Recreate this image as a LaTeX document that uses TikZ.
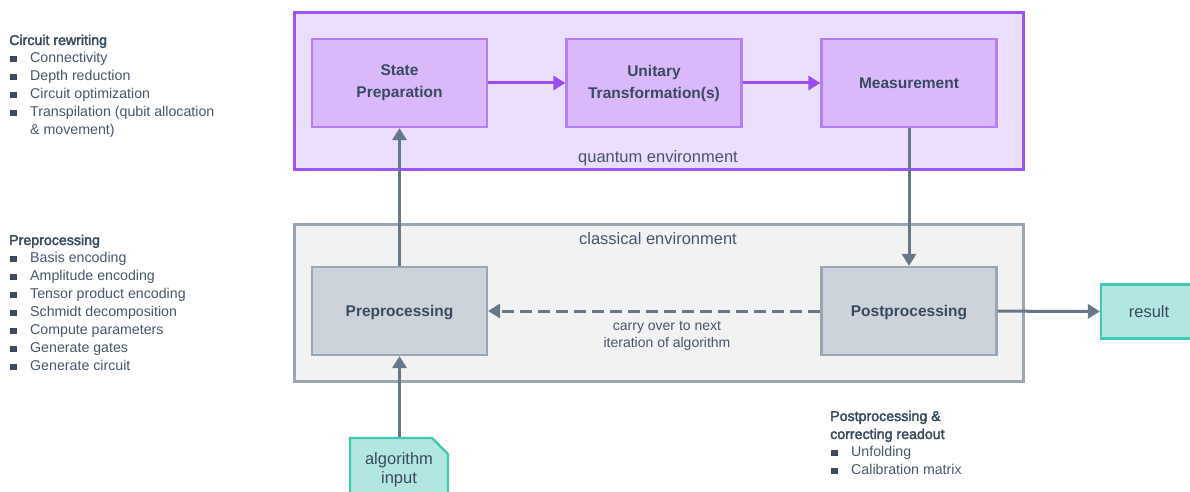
\documentclass[tikz,border=0pt]{standalone}
\usepackage{fontspec}
\setmainfont{Liberation Sans}
\newfontface\medfont{Liberation Sans}[FakeBold=2.5]
\usetikzlibrary{arrows.meta,shapes.misc}
\definecolor{qborder}{HTML}{9D55F2}
\definecolor{qfill}{HTML}{EBDDFC}
\definecolor{qbox}{HTML}{D9B9FA}
\definecolor{qboxb}{HTML}{B47EF6}
\definecolor{qarrow}{HTML}{9B4DF0}
\definecolor{cborder}{HTML}{9AA6B2}
\definecolor{cfill}{HTML}{F2F2F2}
\definecolor{cbox}{HTML}{CDD3DA}
\definecolor{carrow}{HTML}{67788A}
\definecolor{txt}{HTML}{3A4A5E}
\definecolor{ltxt}{HTML}{46566A}
\definecolor{tfill}{HTML}{B2E7E1}
\definecolor{tborder}{HTML}{3DC9B6}
\newcommand{\bul}{\makebox[21pt][l]{\hspace{1pt}\textcolor{txt}{\rule[0.5pt]{6.5pt}{6.5pt}}}}
\newcommand{\hd}[1]{{\medfont\color{txt}#1}}
\tikzset{
  env/.style={draw, line width=3pt, minimum width=729pt, minimum height=157pt, inner sep=0pt},
  qstep/.style={draw=qboxb, fill=qbox, line width=2.2pt, minimum width=175pt, minimum height=88pt, align=center, font=\fontsize{15.5}{22}\selectfont\bfseries, text=txt},
  cstep/.style={draw=cborder, fill=cbox, line width=2.2pt, minimum width=175pt, minimum height=88pt, align=center, font=\fontsize{15.5}{22}\selectfont\bfseries, text=txt, text depth=0pt},
  tbox/.style={draw=tborder, fill=tfill, line width=2.2pt, align=center, font=\fontsize{16.5}{19}\selectfont, text=txt},
  lbl/.style={font=\fontsize{16.5}{17}\selectfont, text=ltxt, inner sep=0pt},
  lst/.style={font=\fontsize{14.2}{18}\selectfont, text=ltxt, inner sep=0pt, align=left, anchor=north west},
  qarr/.style={draw=qarrow, line width=3pt, -{Triangle[length=12pt,width=14pt]}},
  carr/.style={draw=carrow, line width=3pt, -{Triangle[length=12pt,width=14pt]}},
}
\begin{document}
\begin{tikzpicture}[x=1pt,y=-1pt]
\useasboundingbox (0,0) rectangle (1190,492);
\clip (0,0) rectangle (1190,492);
\node[env, draw=qborder, fill=qfill] (qenv) at (658.5,91) {};
\node[env, draw=cborder, fill=cfill] (cenv) at (658.5,302.5) {};
\node[lbl] (qlab) at (658,158.5) {quantum environment};
\node[lbl] (clab) at (658,239) {classical environment};

\node[qstep] (sp) at (399.5,83) {State\\Preparation};
\node[qstep] (ut) at (654,83) {Unitary\\Transformation(s)};
\node[qstep] (me) at (909,83) {Measurement};
\node[cstep] (pre) at (399.5,311) {Preprocessing};
\node[cstep] (post) at (909,311) {Postprocessing};
\node[tbox, minimum width=96pt, minimum height=54pt, text depth=0pt] (res) at (1149,311.5) {result};
\node[tbox, chamfered rectangle, chamfered rectangle corners=north east, chamfered rectangle xsep=8pt, chamfered rectangle ysep=8pt, minimum width=98pt, minimum height=64pt, inner sep=0pt] (ain) at (399,470) {algorithm\\input};

\draw[qarr] (sp) -- (ut);
\draw[qarr] (ut) -- (me);
\draw[carr] (pre) -- (sp);
\draw[carr] (me) -- (post);
\draw[carr] (post) -- (res);
\draw[carr] (ain.north -| pre.south) -- (pre.south);
\draw[carr, dashed, dash pattern=on 12pt off 6pt] (post) -- (pre);
\node[lbl, align=center, font=\fontsize{14}{17.5}\selectfont] (carry) at (667,336) {carry over to next\\iteration of algorithm};

\node[lst] (crw) at (9,34.5) {\hd{Circuit rewriting}\\
\bul Connectivity\\
\bul Depth reduction\\
\bul Circuit optimization\\
\bul Transpilation (qubit allocation\\
\hspace*{21pt}\& movement)};
\node[lst] (prl) at (9,234.5) {\hd{Preprocessing}\\
\bul Basis encoding\\
\bul Amplitude encoding\\
\bul Tensor product encoding\\
\bul Schmidt decomposition\\
\bul Compute parameters\\
\bul Generate gates\\
\bul Generate circuit};
\node[lst] (pol) at (830,410.5) {\hd{Postprocessing \&}\\
\hd{correcting readout}\\
\bul Unfolding\\
\bul Calibration matrix};
\end{tikzpicture}
\end{document}
